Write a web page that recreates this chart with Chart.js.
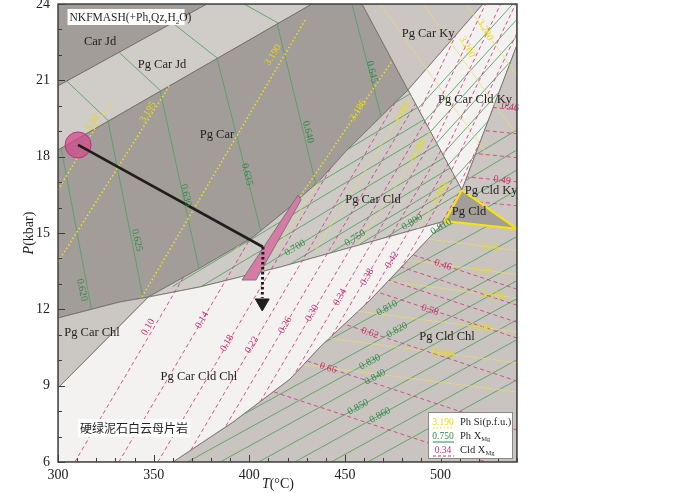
<!DOCTYPE html>
<html>
<head>
<meta charset="utf-8">
<script src="https://cdn.jsdelivr.net/npm/chart.js@4.4.1/dist/chart.umd.min.js"></script>
<style>
  html, body { margin: 0; padding: 0; background: #fff; }
</style>
</head>
<body>
<canvas id="pseudosection" width="700" height="493"></canvas>
<script>
// phase fields, corners as [T(°C), P(kbar)]
const carJd = [[300,24],[377.9,24],[300,20.78]];
const pgCarJd = [[300,20.78],[377.9,24],[432.8,24],[300,18.26]];
const pgCar = [[300,18.26],[432.8,24],[459,24],[483,20.62],[451.1,18.26],[437,17.08],[421.3,16.02],[402,14.84],[374.2,13.62],[347.1,12.48],[332.4,12.29],[300,11.66]];
const pgCarKy = [[459,24],[522.2,24],[483,20.62]];
const pgCarCldKy = [[483,20.62],[522.2,24],[540,24],[540,22.39],[511.2,16.69]];
const pgCarCld = [[347.1,12.48],[374.2,13.62],[402,14.84],[421.3,16.02],[437,17.08],[451.1,18.26],[483,20.62],[511.2,16.69],[502.4,15.47],[416.1,13.66],[374.2,12.88]];
const pgCldKy = [[540,22.39],[540,15.16],[511.2,16.69]];
const pgCld = [[511.2,16.69],[502.4,15.47],[540,15.16]];
const pgCldChl = [[502.4,15.47],[540,15.16],[540,6],[360.1,6],[391.5,7.57],[421.3,9.26],[437,10.52],[463.1,12.36]];
const pgCarCldChl = [[347.1,12.48],[374.2,12.88],[416.1,13.66],[502.4,15.47],[463.1,12.36],[437,10.52],[421.3,9.26],[391.5,7.57],[360.1,6],[300,6],[300,8.91]];
const pgCarChl = [[300,11.66],[332.4,12.29],[347.1,12.48],[300,8.91]];
const pinkBand = [[425.5,16.49],[396.2,13.15],[403.5,13.15],[427.1,16.3]];

// Ph XMg isopleths (green)
const phXmgCar = [[[300,19],[320,11]],[[324.6,20],[348.3,11]],[[352.2,21],[378.4,12]],[[381,22.5],[409.7,14]],[[412.1,24],[437.8,16]],[[453.7,24],[474.4,18]]];
const phXmgCarJd = [[[300,21.3],[330,19.15]],[[325,22.58],[360,20.15]],[[355,23.54],[390,21.48]],[[390,24.3],[420,23.05]]];
const phXmgCarCld = [[[360,15.65],[540,23.77]],[[360,14.87],[540,22.99]],[[360,14.16],[540,22.28]],[[360,13.53],[540,21.65]],[[360,12.9],[540,21.02]],[[360,12.23],[540,20.35]],[[360,11.56],[540,19.68]],[[360,11.01],[540,19.13]],[[360,10.5],[540,18.62]],[[360,10.15],[540,18.27]],[[360,9.8],[540,17.92]]];
const phXmgCarCldKy = [[[480,19.21],[540,24.18]],[[480,18.43],[540,23.4]],[[480,17.76],[540,22.73]],[[480,17.05],[540,22.02]],[[480,16.35],[540,21.32]],[[480,15.68],[540,20.65]],[[480,14.89],[540,19.86]],[[480,14.1],[540,19.07]]];
const phXmgCldKy = [[[500,17.25],[540,19.05]],[[500,16.47],[540,18.27]],[[500,15.68],[540,17.48]],[[500,14.9],[540,16.7]]];
const phXmgCldChl = [[[350,9.71],[540,17.57]],[[350,8.92],[540,16.78]],[[350,8.06],[540,15.92]],[[350,7.0],[540,14.86]],[[350,5.93],[540,13.79]],[[350,5.27],[540,13.13]],[[350,4.56],[540,12.42]],[[350,3.73],[540,11.59]],[[350,2.95],[540,10.81]],[[350,2.16],[540,10.02]],[[350,1.37],[540,9.23]]];

// Ph Si isopleths (yellow)
const phSiOpen = [[[300,16.69],[328.2,20.23]],[[300,13.86],[358.6,20.82]]];
const phSiCar = [[[342.9,12.36],[429.2,23.37]],[[420,15.7],[485,22.9]]];
const phSiCarCld = [[[392.3,14.26],[458.8,22.26]],[[413.2,14.26],[479.7,22.26]],[[434.1,14.26],[500.6,22.26]],[[455,14.26],[521.5,22.26]],[[480.7,14.26],[547.2,22.26]]];
const phSiKy = [[[468.4,24],[525.4,18]],[[490.9,24],[547.9,18]],[[513.3,24],[570.3,18]],[[539,24],[596,18]]];
const phSiCldChl = [[[400,15.68],[540,14.31]],[[400,14.74],[540,13.37]],[[400,13.81],[540,12.44]],[[400,12.48],[540,11.11]],[[400,11.27],[540,9.9]],[[400,10.1],[540,8.75]]];

// Cld XMg isopleths (magenta)
const cldXmgLow = [[[308.8,6],[449.7,24]],[[331.8,6],[472.7,24]],[[352.2,6],[493.1,24]],[[365.8,6],[506.7,24]],[[376.7,6],[517.6,24]],[[387.2,6],[528.1,24]],[[396.6,6],[537.5,24]],[[404.4,6],[545.3,24]],[[412.3,6],[553.2,24]],[[419.6,6],[560.5,24]],[[426.9,6],[567.8,24]],[[434.3,6],[575.2,24]],[[441.6,6],[582.5,24]]];
const cldXmgKy = [[[452.4,14],[515.8,24]],[[460.2,14],[523.6,24]],[[468.1,14],[531.5,24]],[[475.9,14],[539.3,24]],[[483.8,14],[547.2,24]],[[491.6,14],[555,24]],[[499.5,14],[562.9,24]]];
const cldXmgCldKy = [[[480,20.29],[540,19.84]],[[480,19.35],[540,18.9]],[[480,18.41],[540,17.96]],[[480,17.46],[540,17.01]],[[480,16.52],[540,16.07]]];
const cldXmgCldChl = [[[340,17.75],[540,12.79]],[[340,17.12],[540,12.16]],[[340,16.45],[540,11.49]],[[340,15.83],[540,10.87]],[[340,14.14],[540,9.18]],[[340,12.21],[540,7.25]],[[340,10.56],[540,5.6]]];

// P-T path
const pathStart = [310.5, 18.46];
const pathKink = [407.2, 14.45];
const pathEnd = [406.8, 12.45];
const arrowHead = [406.8, 12.25];

// text: [label, T, P, rotation]
const fieldLabels = [
  ['Car Jd', 322, 22.51, 0], ['Pg Car Jd', 354.4, 21.6, 0], ['Pg Car', 383.1, 18.85, 0],
  ['Pg Car Ky', 493.5, 22.82, 0], ['Pg Car Cld Ky', 518, 20.23, 0], ['Pg Car Cld', 464.7, 16.3, 0],
  ['Pg Cld Ky', 526.5, 16.65, 0], ['Pg Cld', 514.9, 15.82, 0], ['Pg Car Chl', 317.8, 11.07, 0],
  ['Pg Car Cld Chl', 373.7, 9.34, 0], ['Pg Cld Chl', 503.4, 10.91, 0]
];
const greenLabels = [
  ['0.620', 312.5, 12.76, 78], ['0.625', 341.3, 14.72, 78], ['0.630', 366.9, 16.49, 78],
  ['0.635', 398.8, 17.3, 76], ['0.640', 430.7, 18.97, 76], ['0.645', 464.2, 21.33, 76],
  ['0.700', 423.9, 14.41, -31], ['0.750', 455.3, 14.8, -31], ['0.800', 485.1, 15.43, -31],
  ['0.810', 500.3, 15.25, -31], ['0.810', 472, 12.05, -29], ['0.820', 477.3, 11.19, -29],
  ['0.830', 463.1, 9.93, -29], ['0.840', 465.8, 9.34, -29], ['0.850', 456.9, 8.16, -29], ['0.860', 468.4, 7.84, -29]
];
const yellowLabels = [
  ['3.20', 317.8, 19.32, -55], ['3.195', 347.1, 19.75, -58], ['3.190', 412.4, 22.0, -58],
  ['3.186', 456.9, 19.83, -58], ['3.185', 479.9, 19.72, -60], ['3.184', 488.2, 18.26, -60],
  ['3.183', 499.7, 16.57, -60], ['3.16', 525.9, 14.45, 5], ['3.14', 522.2, 13.54, 5],
  ['3.120', 527.5, 12.56, 5], ['3.100', 520.7, 11.3, 8], ['3.080', 501.3, 10.28, 8],
  ['3.280', 523.3, 22.98, 60], ['3.260', 513.9, 22.31, 60]
];
const magentaLabels = [
  ['0.10', 347.1, 11.3, -60], ['0.14', 375.3, 11.58, -60], ['0.18', 388.4, 10.67, -60],
  ['0.22', 401.4, 10.6, -60], ['0.26', 418.7, 11.38, -60], ['0.30', 432.8, 11.85, -60],
  ['0.34', 447.5, 12.48, -60], ['0.38', 461.6, 13.27, -60], ['0.42', 474.6, 13.94, -60],
  ['0.46', 501.3, 13.74, 18], ['0.58', 494.5, 11.97, 18], ['0.62', 463.1, 11.07, 18],
  ['0.66', 441.2, 9.69, 18], ['0.46', 536.5, 19.95, 10], ['0.49', 532.2, 17.08, 10]
];

const SERIF = '"Liberation Serif", "DejaVu Serif", serif';
const GREEN = { borderColor: '#57a065', borderWidth: 0.9 };
const YELLOW_DOT = { borderColor: '#f0e31c', borderWidth: 1.5, borderDash: [1.5, 2.4] };
const YELLOW_FAINT = { borderColor: '#e6dc6e', borderWidth: 0.7 };
const MAGENTA = { borderColor: '#d23f80', borderWidth: 0.9, borderDash: [4, 3] };

const toPts = arr => arr.map(([x, y]) => ({ x, y }));

const datasets = [];
function addField(poly, color, edge) {
  datasets.push({
    data: toPts(poly.concat([poly[0]])), fill: 'shape', backgroundColor: color,
    borderColor: edge || '#6f6a66', borderWidth: edge ? 2.2 : 0.8, pointRadius: 0
  });
}
function addLines(lines, style, clipTo) {
  lines.forEach(l => datasets.push(Object.assign({ data: toPts(l), fill: false, pointRadius: 0, clipTo: clipTo }, style)));
}

// fields
addField([[300,6],[540,6],[540,24],[300,24]], '#ccc8c4');
addField(carJd, '#a29d99');
addField(pgCarJd, '#d0ccc8');
addField(pgCar, '#a29d99');
addField(pgCarKy, '#cbc6c2');
addField(pgCarCldKy, '#f4f2f1');
addField(pgCarCld, '#cecac6');
addField(pgCldKy, '#cbc6c1');
addField(pgCldChl, '#c9c4bf');
addField(pgCarCldChl, '#f4f2f1');
addField(pgCarChl, '#cbc7c3');

// isopleths
addLines(phXmgCar, GREEN, [pgCar]);
addLines(phXmgCarJd, GREEN, [pgCarJd]);
addLines(phXmgCarCld, GREEN, [pgCarCld]);
addLines(phXmgCarCldKy, GREEN, [pgCarCldKy]);
addLines(phXmgCldKy, GREEN, [pgCldKy]);
addLines(phXmgCldChl, GREEN, [pgCldChl]);
addLines(phSiOpen, YELLOW_DOT, null);
addLines(phSiCar, YELLOW_DOT, [pgCar]);
addLines(phSiCarCld, YELLOW_FAINT, [pgCarCld]);
addLines(phSiKy, YELLOW_FAINT, [pgCarKy, pgCarCldKy, pgCldKy]);
addLines(phSiCldChl, YELLOW_FAINT, [pgCldChl]);
addLines(cldXmgLow, MAGENTA, [pgCarCldChl, pgCarCld]);
addLines(cldXmgKy, MAGENTA, [pgCarCldKy]);
addLines(cldXmgCldKy, MAGENTA, [pgCldKy]);
addLines(cldXmgCldChl, MAGENTA, [pgCldChl]);

// pink band, Pg Cld field, P-T path
addField(pinkBand, '#d57ca6');
addField(pgCld, '#a39e9a', '#f3e313');
datasets.push({ data: toPts([pathStart]), pointRadius: 13, pointBackgroundColor: 'rgba(208,72,140,0.72)', pointBorderColor: 'rgba(190,40,120,0.9)', pointBorderWidth: 1, showLine: false });
datasets.push({ data: toPts([pathStart, pathKink]), borderColor: '#1e1e1e', borderWidth: 2.6, pointRadius: 0, fill: false });
datasets.push({ data: toPts([pathKink, pathEnd]), borderColor: '#1e1e1e', borderWidth: 3, borderDash: [2.5, 2.5], pointRadius: 0, fill: false });
datasets.push({ data: toPts([arrowHead]), pointStyle: 'triangle', rotation: 180, pointRadius: 8, pointBackgroundColor: '#1e1e1e', pointBorderColor: '#1e1e1e', showLine: false });

datasets.forEach((d, i) => { d.order = -i; });

const regionClip = {
  id: 'regionClip',
  beforeDatasetDraw(chart, args) {
    const ds = chart.data.datasets[args.index];
    if (!ds.clipTo) return;
    const { ctx, scales: { x, y } } = chart;
    ctx.save();
    ctx.beginPath();
    ds.clipTo.forEach(poly => {
      poly.forEach(([t, p], i) => {
        const px = x.getPixelForValue(t), py = y.getPixelForValue(p);
        if (i) ctx.lineTo(px, py); else ctx.moveTo(px, py);
      });
      ctx.closePath();
    });
    ctx.clip();
  },
  afterDatasetDraw(chart, args) {
    if (chart.data.datasets[args.index].clipTo) chart.ctx.restore();
  }
};

function rotText(ctx, txt, px, py, rot, font, color) {
  ctx.save();
  ctx.translate(px, py);
  ctx.rotate(rot * Math.PI / 180);
  ctx.font = font;
  ctx.fillStyle = color;
  ctx.textAlign = 'center';
  ctx.textBaseline = 'middle';
  ctx.fillText(txt, 0, 0);
  ctx.restore();
}

// draws "main" + subscript pieces left to right, returns end x
function subText(ctx, parts, x, y, size, color) {
  ctx.fillStyle = color;
  ctx.textBaseline = 'alphabetic';
  ctx.textAlign = 'left';
  parts.forEach(([t, sub]) => {
    ctx.font = (sub ? size * 0.62 : size) + 'px ' + SERIF;
    ctx.fillText(t, x, sub ? y + size * 0.22 : y);
    x += ctx.measureText(t).width;
  });
  return x;
}

const annotations = {
  id: 'annotations',
  afterDatasetsDraw(chart) {
    const { ctx, scales: { x, y } } = chart;
    const put = (list, font, color) => list.forEach(([t, T, P, r]) =>
      rotText(ctx, t, x.getPixelForValue(T), y.getPixelForValue(P), r, font, color));
    put(fieldLabels, '12.5px ' + SERIF, '#1f1f1f');
    put(greenLabels, '10px ' + SERIF, '#2f8a46');
    put(yellowLabels, '10px ' + SERIF, '#e8da0c');
    put(magentaLabels, '10px ' + SERIF, '#c9306f');

    // system label
    const bx = x.getPixelForValue(305.5), by = y.getPixelForValue(23.49);
    ctx.fillStyle = '#ffffff';
    ctx.fillRect(bx - 1, by - 8, 117, 16);
    subText(ctx, [['NKFMASH(+Ph,Qz,H', false], ['2', true], ['O)', false]], bx + 1, by + 4, 11.5, '#1f1f1f');

    // rock name
    const cx = x.getPixelForValue(339.7), cy = y.getPixelForValue(7.33);
    ctx.font = '12px "Noto Sans CJK SC", sans-serif';
    const w = ctx.measureText('硬绿泥石白云母片岩').width;
    ctx.fillStyle = '#ffffff';
    ctx.fillRect(cx - w / 2 - 2, cy - 9, w + 4, 18);
    rotText(ctx, '硬绿泥石白云母片岩', cx, cy, 0, '12px "Noto Sans CJK SC", sans-serif', '#1f1f1f');
  },
  afterDraw(chart) {
    const { ctx, chartArea: a, scales: { x, y } } = chart;
    ctx.save();
    // inward ticks
    ctx.strokeStyle = '#3a3a3a';
    ctx.lineWidth = 1;
    ctx.beginPath();
    for (let p = 6; p <= 24; p++) {
      const py = Math.round(y.getPixelForValue(p)) + 0.5;
      ctx.moveTo(a.left, py); ctx.lineTo(a.left + (p % 3 === 0 ? 7 : 4), py);
    }
    for (let t = 300; t <= 540; t += 10) {
      const px = Math.round(x.getPixelForValue(t)) + 0.5;
      ctx.moveTo(px, a.bottom); ctx.lineTo(px, a.bottom - (t % 50 === 0 ? 7 : 4));
    }
    ctx.stroke();
    // frame
    ctx.lineWidth = 1.5;
    ctx.strokeStyle = '#444';
    ctx.strokeRect(a.left, a.top, a.right - a.left, a.bottom - a.top);

    // axis titles
    ctx.save();
    ctx.translate(29, (a.top + a.bottom) / 2);
    ctx.rotate(-Math.PI / 2);
    ctx.font = 'italic 14px ' + SERIF;
    const pW = ctx.measureText('P').width;
    ctx.font = '14px ' + SERIF;
    const rW = ctx.measureText('(kbar)').width;
    ctx.textBaseline = 'middle';
    ctx.textAlign = 'left';
    ctx.fillStyle = '#222';
    ctx.font = 'italic 14px ' + SERIF;
    ctx.fillText('P', -(pW + rW) / 2, 0);
    ctx.font = '14px ' + SERIF;
    ctx.fillText('(kbar)', -(pW + rW) / 2 + pW, 0);
    ctx.restore();

    ctx.font = 'italic 14px ' + SERIF;
    const tW = ctx.measureText('T').width;
    ctx.font = '14px ' + SERIF;
    const cW = ctx.measureText('(°C)').width;
    const tx = x.getPixelForValue(415) - (tW + cW) / 2;
    ctx.textBaseline = 'middle';
    ctx.textAlign = 'left';
    ctx.fillStyle = '#222';
    ctx.font = 'italic 14px ' + SERIF;
    ctx.fillText('T', tx, 484);
    ctx.font = '14px ' + SERIF;
    ctx.fillText('(°C)', tx + tW, 484);

    // legend box
    const lx = a.right - 89, ly = a.bottom - 50;
    ctx.fillStyle = '#ffffff';
    ctx.fillRect(lx, ly, 84, 46);
    ctx.strokeStyle = '#8a8a8a';
    ctx.lineWidth = 1;
    ctx.strokeRect(lx + 0.5, ly + 0.5, 84, 46);
    const rows = [
      ['3.190', '#e8da0c', [1.5, 2], [['Ph Si(p.f.u.)', false]]],
      ['0.750', '#2f8a46', [], [['Ph X', false], ['Mg', true]]],
      ['0.34', '#c9306f', [3, 2], [['Cld X', false], ['Mg', true]]]
    ];
    rows.forEach(([num, col, dash, parts], i) => {
      const ry = ly + 13 + i * 14;
      ctx.font = '9.5px ' + SERIF;
      ctx.fillStyle = col;
      ctx.textAlign = 'center';
      ctx.textBaseline = 'alphabetic';
      ctx.fillText(num, lx + 15, ry);
      ctx.setLineDash(dash);
      ctx.strokeStyle = col;
      ctx.beginPath();
      ctx.moveTo(lx + 5, ry + 3); ctx.lineTo(lx + 26, ry + 3);
      ctx.stroke();
      ctx.setLineDash([]);
      subText(ctx, parts, lx + 32, ry, 10.5, '#1f1f1f');
    });
    ctx.restore();
  }
};

new Chart(document.getElementById('pseudosection').getContext('2d'), {
  type: 'line',
  data: { datasets: datasets },
  options: {
    responsive: false,
    animation: false,
    devicePixelRatio: 1,
    layout: { autoPadding: false, padding: { left: 0, right: 183, top: 4, bottom: 0 } },
    elements: { line: { tension: 0 }, point: { radius: 0 } },
    plugins: { legend: { display: false }, tooltip: { enabled: false } },
    scales: {
      x: {
        type: 'linear', min: 300, max: 540,
        grid: { display: false, drawTicks: false }, border: { display: false },
        ticks: { stepSize: 50, includeBounds: false, padding: 5, color: '#222', font: { family: SERIF, size: 14 } },
        afterFit(s) { s.height = 31; s.paddingLeft = 0; s.paddingRight = 0; }
      },
      y: {
        type: 'linear', min: 6, max: 24,
        grid: { display: false, drawTicks: false }, border: { display: false },
        ticks: { stepSize: 3, includeBounds: false, padding: 8, color: '#222', font: { family: SERIF, size: 14 } },
        afterFit(s) { s.width = 58; s.paddingTop = 0; s.paddingBottom = 0; }
      }
    }
  },
  plugins: [regionClip, annotations]
});
</script>
</body>
</html>
